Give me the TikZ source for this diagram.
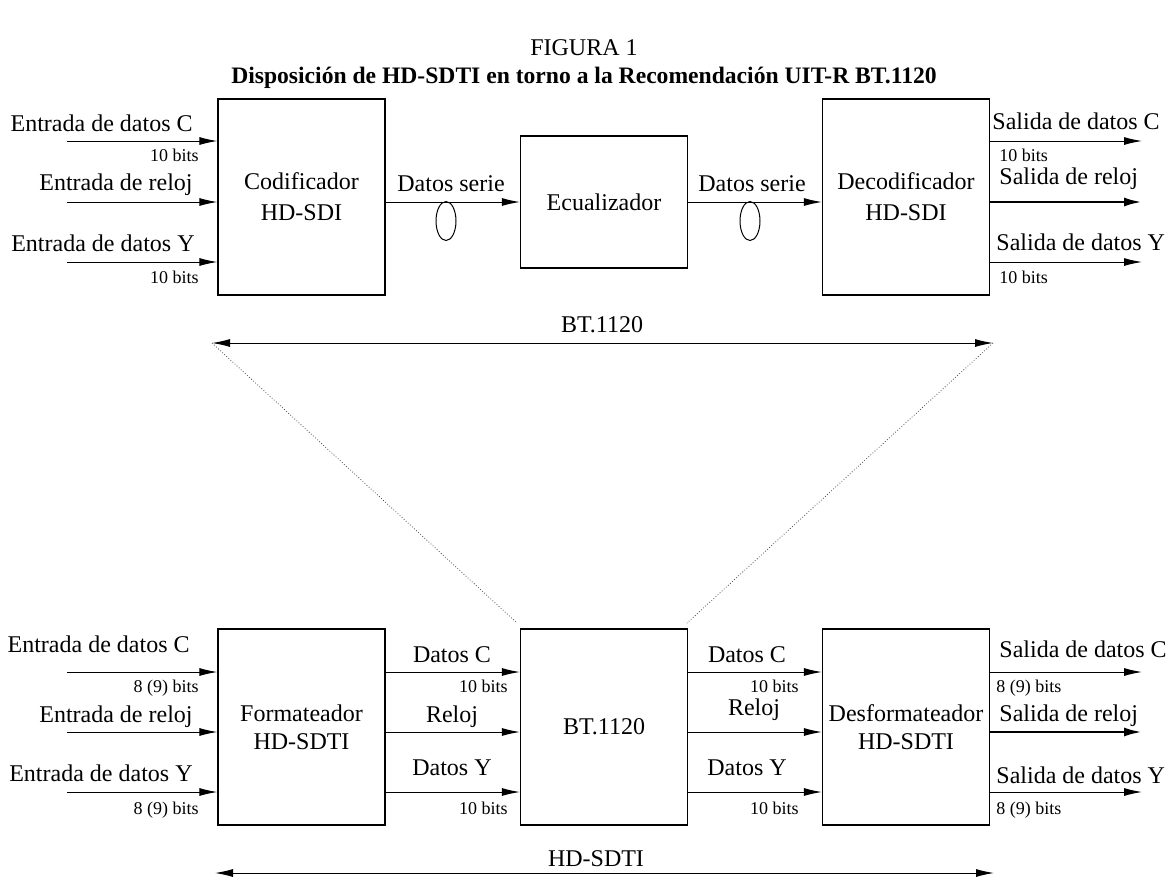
\documentclass[tikz,border=0pt]{standalone}
\usepackage{fontspec}
\setmainfont{Liberation Serif}
\usetikzlibrary{arrows.meta,shapes.geometric}

\tikzset{
  blk/.style={draw, line width=0.65pt, minimum width=83.5pt, minimum height=98pt, inner sep=0pt, align=center, font=\fontsize{12}{15.5}\selectfont},
  lbl/.style={inner sep=0pt, font=\fontsize{12}{14}\selectfont},
  bits/.style={inner sep=0pt, font=\fontsize{9}{10}\selectfont},
  sig/.style={line width=0.5pt, -{Latex[length=9pt,width=4pt]}},
  clk/.style={line width=1.3pt, -{Latex[length=9pt,width=4.5pt]}},
  cable/.style={draw, ellipse, line width=0.5pt, minimum width=10pt, minimum height=19.5pt, inner sep=0pt},
  span/.style={line width=0.5pt, {Latex[length=9pt,width=4pt]}-{Latex[length=9pt,width=4pt]}},
  guide/.style={densely dotted, line width=0.4pt, black!70},
}

\begin{document}
\begin{tikzpicture}[x=0.5pt,y=-0.5pt]
  \useasboundingbox (0,0) rectangle (1168,879);

  % titulo
  \path
  (584,55) node[lbl, anchor=base] (fig) {FIGURA 1}
  (584,83) node[lbl, anchor=base, font=\fontsize{11.8}{14}\bfseries] (tit) {Disposición de HD-SDTI en torno a la Recomendación UIT-R BT.1120}
  ;

  % BT.1120 arriba
  \path
  (301.5,197) node[blk] (cod) {Codificador\\HD-SDI}
  (604,202) node[blk, minimum height=66pt] (ecu) {Ecualizador}
  (906,197) node[blk] (dec) {Decodificador\\HD-SDI}
  ;

  \coordinate (a1) at (67,141);
  \coordinate (a2) at (67,202);
  \coordinate (a3) at (67,262);
  \coordinate (b1) at (1142,141);
  \coordinate (b2) at (1142,202);
  \coordinate (b3) at (1142,262);

  \draw[sig] (a1) -- (cod.west |- a1);
  \draw[sig] (a2) -- (cod.west |- a2);
  \draw[sig] (a3) -- (cod.west |- a3);
  \draw[sig] (cod.east |- a2) -- (ecu.west |- a2);
  \draw[sig] (ecu.east |- a2) -- (dec.west |- a2);
  \draw[sig] (dec.east |- b1) -- (b1);
  \draw[clk] (dec.east |- b2) -- (b2);
  \draw[sig] (dec.east |- b3) -- (b3);

  \path
  (193,131) node[lbl, anchor=base east] (inC) {Entrada de datos C}
  (199,161) node[bits, anchor=base east] (inCb) {10 bits}
  (193,190) node[lbl, anchor=base east] (inK) {Entrada de reloj}
  (195,251) node[lbl, anchor=base east] (inY) {Entrada de datos Y}
  (199,283) node[bits, anchor=base east] (inYb) {10 bits}
  (451,191) node[lbl, anchor=base] (ser1) {Datos serie}
  (752,191) node[lbl, anchor=base] (ser2) {Datos serie}
  (992,129) node[lbl, anchor=base west] (outC) {Salida de datos C}
  (999,161) node[bits, anchor=base west] (outCb) {10 bits}
  (999,184) node[lbl, anchor=base west] (outK) {Salida de reloj}
  (996,250) node[lbl, anchor=base west] (outY) {Salida de datos Y}
  (999,283) node[bits, anchor=base west] (outYb) {10 bits}
  ;

  \path
  (446,221) node[cable] (e1) {}
  (750,221) node[cable] (e2) {}
  ;

  % zoom
  \coordinate (tl) at (212,343);
  \coordinate (tr) at (993,343);
  \coordinate (gl) at (517,623);
  \coordinate (gr) at (687,623);
  \draw[span] (tl) -- (tr);
  \node[lbl, anchor=base] (bt1) at (602,332) {BT.1120};
  \draw[guide] (tl) -- (gl);
  \draw[guide] (tr) -- (gr);

  % HD-SDTI abajo
  \path
  (301.5,727) node[blk, font=\fontsize{12}{14}\selectfont] (fmt) {Formateador\\HD-SDTI}
  (604,727) node[blk] (bt) {BT.1120}
  (906,727) node[blk, font=\fontsize{12}{14}\selectfont] (dfmt) {Desformateador\\HD-SDTI}
  ;

  \coordinate (c1) at (67,672);
  \coordinate (c2) at (67,732);
  \coordinate (c3) at (67,792);
  \coordinate (d1) at (1142,672);
  \coordinate (d2) at (1142,732);
  \coordinate (d3) at (1142,792);

  \draw[sig] (c1) -- (fmt.west |- c1);
  \draw[sig] (c2) -- (fmt.west |- c2);
  \draw[sig] (c3) -- (fmt.west |- c3);
  \draw[sig] (fmt.east |- c1) -- (bt.west |- c1);
  \draw[sig] (fmt.east |- c2) -- (bt.west |- c2);
  \draw[sig] (fmt.east |- c3) -- (bt.west |- c3);
  \draw[sig] (bt.east |- c1) -- (dfmt.west |- c1);
  \draw[sig] (bt.east |- c2) -- (dfmt.west |- c2);
  \draw[sig] (bt.east |- c3) -- (dfmt.west |- c3);
  \draw[sig] (dfmt.east |- d1) -- (d1);
  \draw[clk] (dfmt.east |- d2) -- (d2);
  \draw[sig] (dfmt.east |- d3) -- (d3);

  \path
  (190,652) node[lbl, anchor=base east] (fC) {Entrada de datos C}
  (199,692) node[bits, anchor=base east] (fCb) {8 (9) bits}
  (193,722) node[lbl, anchor=base east] (fK) {Entrada de reloj}
  (193,781) node[lbl, anchor=base east] (fY) {Entrada de datos Y}
  (199,814) node[bits, anchor=base east] (fYb) {8 (9) bits}
  (452,662) node[lbl, anchor=base] (mC) {Datos C}
  (508,692) node[bits, anchor=base east] (mCb) {10 bits}
  (452,722) node[lbl, anchor=base] (mK) {Reloj}
  (452,775) node[lbl, anchor=base] (mY) {Datos Y}
  (508,814) node[bits, anchor=base east] (mYb) {10 bits}
  (747,662) node[lbl, anchor=base] (nC) {Datos C}
  (799,692) node[bits, anchor=base east] (nCb) {10 bits}
  (754,715) node[lbl, anchor=base] (nK) {Reloj}
  (747,775) node[lbl, anchor=base] (nY) {Datos Y}
  (799,814) node[bits, anchor=base east] (nYb) {10 bits}
  (999,657) node[lbl, anchor=base west] (dC) {Salida de datos C}
  (996,692) node[bits, anchor=base west] (dCb) {8 (9) bits}
  (999,721) node[lbl, anchor=base west] (dK) {Salida de reloj}
  (996,783) node[lbl, anchor=base west] (dY) {Salida de datos Y}
  (996,814) node[bits, anchor=base west] (dYb) {8 (9) bits}
  ;

  \coordinate (sl) at (215,873);
  \coordinate (sr) at (994,873);
  \draw[span] (sl) -- (sr);
  \node[lbl, anchor=base] (hd) at (596,866) {HD-SDTI};
\end{tikzpicture}
\end{document}
